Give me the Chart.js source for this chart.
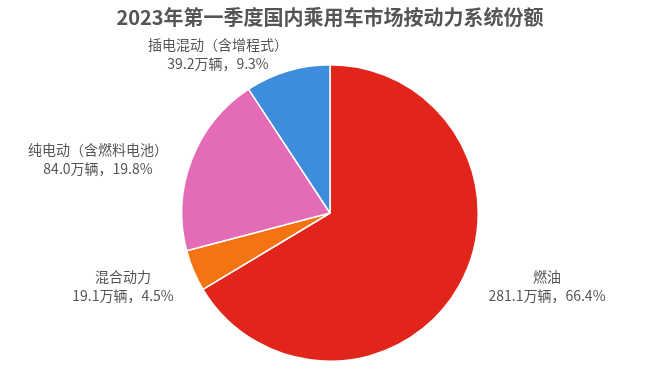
<!DOCTYPE html>
<html>
<head>
<meta charset="utf-8">
<script src="https://cdn.jsdelivr.net/npm/chart.js@4"></script>
<style>
html,body{margin:0;padding:0;background:#fff;}
#wrap{width:660px;height:371px;position:relative;}
</style>
</head>
<body>
<div id="wrap"><canvas id="c" width="660" height="371"></canvas></div>
<script>
const titleText = "2023年第一季度国内乘用车市场按动力系统份额";
const categories = ["燃油", "混合动力", "纯电动（含燃料电池）", "插电混动（含增程式）"];
const volumes = [281.1, 19.1, 84.0, 39.2];   // 万辆
const shares = [66.4, 4.5, 19.8, 9.3];       // %
const colors = ["#E1251B", "#F57313", "#E46CB6", "#3E8DDD"];

const labelPlugin = {
  id: 'labels',
  afterDraw(chart) {
    const ctx = chart.ctx;
    ctx.save();
    ctx.textAlign = 'center';
    ctx.textBaseline = 'middle';
    ctx.fillStyle = '#555555';
    ctx.font = 'bold 20px "Noto Sans CJK SC", sans-serif';
    ctx.fillText(titleText, 330, 17);
    const pos = [[547, 277], [123, 277], [98, 150], [218, 45]];
    ctx.font = '14px "Noto Sans CJK SC", sans-serif';
    ctx.fillStyle = '#555555';
    categories.forEach((c, i) => {
      const [x, y] = pos[i];
      ctx.fillText(c, x, y);
      ctx.fillText(volumes[i].toFixed(1) + "万辆，" + shares[i].toFixed(1) + "%", x, y + 19);
    });
    ctx.restore();
  }
};

new Chart(document.getElementById('c'), {
  type: 'pie',
  data: {
    labels: categories,
    datasets: [{
      data: volumes,
      backgroundColor: colors,
      borderColor: '#ffffff',
      borderWidth: 1.5
    }]
  },
  options: {
    responsive: false,
    animation: false,
    layout: { padding: { top: 64, bottom: 9, left: 0, right: 0 } },
    plugins: {
      legend: { display: false },
      tooltip: { enabled: false },
      title: { display: false }
    }
  },
  plugins: [labelPlugin]
});
</script>
</body>
</html>
